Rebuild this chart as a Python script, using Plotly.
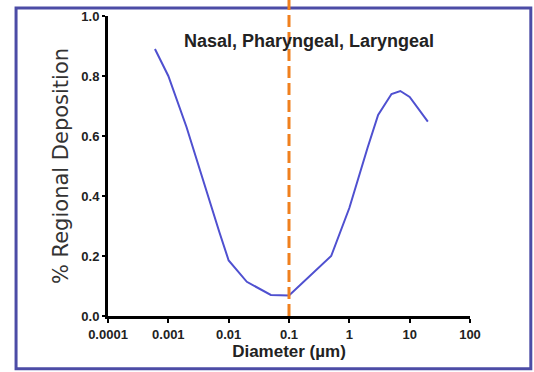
import plotly.graph_objects as go

diameter_um = [0.0006, 0.001, 0.002, 0.005, 0.007, 0.01, 0.02, 0.05, 0.1, 0.5, 1, 2, 3, 5, 7, 10, 20]
deposition = [0.89, 0.80, 0.63, 0.37, 0.28, 0.185, 0.114, 0.07, 0.068, 0.20, 0.36, 0.56, 0.67, 0.74, 0.75, 0.73, 0.648]

x_tickvals = [0.0001, 0.001, 0.01, 0.1, 1, 10, 100]
x_ticktext = ["0.0001", "0.001", "0.01", "0.1", "1", "10", "100"]
y_tickvals = [0.0, 0.2, 0.4, 0.6, 0.8, 1.0]
cutoff_um = 0.1
panel_title = "Nasal, Pharyngeal, Laryngeal"

font_family = "Liberation Sans, Arial, sans-serif"

fig = go.Figure()
fig.add_trace(go.Scatter(
    x=diameter_um, y=deposition, mode="lines",
    line=dict(color="#4f50d0", width=2),
    showlegend=False, hoverinfo="skip",
))

# vertical dashed cutoff line
fig.add_shape(type="line", xref="x", yref="paper",
              x0=cutoff_um, x1=cutoff_um, y0=0, y1=1.06,
              line=dict(color="#f0801e", width=3, dash="12px,5px"))

# outer frame
fig.add_shape(type="rect", xref="paper", yref="paper",
              x0=-0.254, x1=1.168, y0=-0.176, y1=1.027,
              line=dict(color="#4c4ca6", width=3), layer="below")

fig.add_annotation(x=0.556, y=0.915, xref="paper", yref="paper",
                   xanchor="center", yanchor="middle",
                   text=panel_title, showarrow=False,
                   font=dict(family=font_family, size=18, color="#222222", weight="bold"))

fig.update_layout(
    width=534, height=372,
    margin=dict(l=108, r=64, t=16, b=56, autoexpand=False),
    paper_bgcolor="white", plot_bgcolor="white",
    font=dict(family=font_family, color="#222222"),
    xaxis=dict(
        type="log", range=[-4, 2],
        tickvals=x_tickvals, ticktext=x_ticktext,
        showgrid=False, zeroline=False,
        showline=True, linecolor="black", linewidth=3,
        ticks="outside", ticklen=4, tickwidth=2, tickcolor="black",
        tickfont=dict(size=13, color="#222222", weight="bold"),
        title=dict(text="Diameter (µm)", font=dict(size=17, color="#222222", weight="bold"), standoff=3),
    ),
    yaxis=dict(
        range=[0, 1.0],
        tickvals=y_tickvals, tickformat=".1f",
        showgrid=False, zeroline=False,
        showline=True, linecolor="black", linewidth=3,
        ticks="outside", ticklen=3, tickwidth=2, tickcolor="black",
        tickfont=dict(size=13, color="#222222", weight="bold"),
        title=dict(text="% Regional Deposition",
                   font=dict(family="DejaVu Sans, sans-serif", size=21, color="#333333"), standoff=7),
    ),
)

fig.write_html("out.html", config={"displayModeBar": False},
               post_script="document.body.style.margin='0';")
